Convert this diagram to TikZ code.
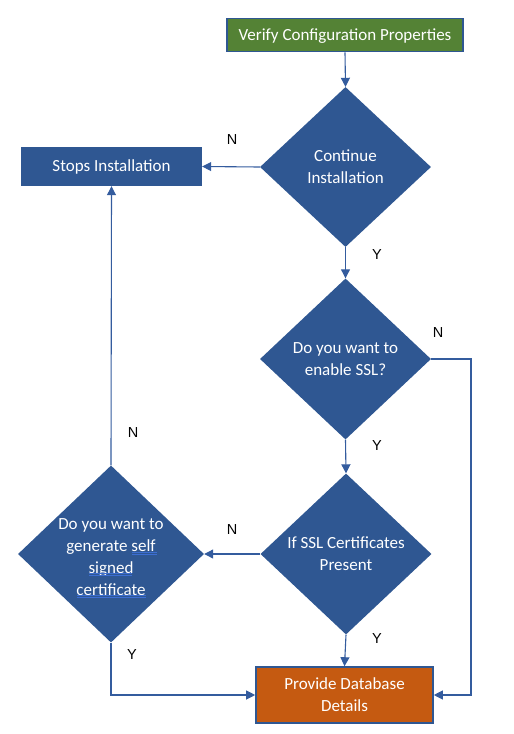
\documentclass[tikz,border=0pt]{standalone}
\usepackage{fontspec}
\setmainfont{Carlito}
\newfontfamily\labfont{Liberation Sans}
\usetikzlibrary{shapes.geometric,arrows.meta}
\definecolor{dblue}{RGB}{47,87,146}
\definecolor{lblue}{RGB}{52,92,158}
\definecolor{ulblue}{RGB}{60,110,210}
\definecolor{dgreen}{RGB}{84,130,53}
\definecolor{dorange}{RGB}{197,90,17}
\begin{document}
\begin{tikzpicture}[x=1pt,y=-1pt,
  base/.style={font=\fontsize{17}{22}\selectfont, text=white, align=center, inner sep=0pt},
  procbox/.style={base, rectangle, fill=dblue},
  decision/.style={base, diamond, fill=dblue, aspect=1},
  conn/.style={draw=lblue, line width=1.1pt, -{Triangle[length=9pt,width=9pt]}},
  squig/.style={draw=ulblue, line width=0.8pt},
  lab/.style={font=\labfont\fontsize{14.5}{16}\selectfont, text=black, inner sep=0pt}]
\useasboundingbox (0,0) rectangle (514,734);
\node[procbox, fill=dgreen, draw=dblue, line width=1.6pt, minimum width=236pt, minimum height=33pt] (verify) at (345,35) {};
\node[base] (verifyt) at ([yshift=-1.5pt]verify.center) {Verify Configuration Properties};
\node[decision, minimum width=171pt, minimum height=160pt] (d1) at (345.5,167) {Continue\\Installation};
\node[procbox, minimum width=181pt, minimum height=39pt] (stops) at (111.5,166.5) {Stops Installation};
\node[decision, minimum width=171pt, minimum height=161pt] (d2) at (345.5,359) {Do you want to\\enable SSL?};
\node[decision, minimum width=171pt, minimum height=161pt] (d3) at (346,554) {If SSL Certificates\\Present};
\node[decision, minimum width=186pt, minimum height=177pt] (d4) at (111,554) {};
\node[base] (d4t) at ([yshift=-3.5pt]d4.center) {Do you want to\\generate self\\signed\\certificate};
\draw[squig] (132,552) -- (157,552) (132,554) -- (157,554);
\draw[squig] (89,573.5) -- (132,573.5) (89,575.5) -- (132,575.5);
\draw[squig] (77,595) -- (146,595) (77,597) -- (146,597);
\node[procbox, fill=dorange, draw=dblue, line width=1.6pt, minimum width=177pt, minimum height=56pt] (db) at (344.5,695) {Provide Database\\Details};
\coordinate (c1) at (471,359);
\draw[conn] (verify.south) -- (d1.north);
\draw[conn] (d1.west) -- (stops.east);
\draw[conn] (d1.south) -- (d2.north);
\draw[conn] (d2.south) -- (d3.north);
\draw[conn] (d2.east) -- (c1) |- (db.east);
\draw[conn] (d3.west) -- (d4.east);
\draw[conn] (d3.south) -- (db.north);
\draw[conn] (d4.north) -- (stops.south);
\draw[conn] (d4.south) |- (db.west);
\node[lab] (n1) at (232,140) {N};
\node[lab] (y1) at (377,255) {Y};
\node[lab] (n2) at (438,333) {N};
\node[lab] (y2) at (377,446) {Y};
\node[lab] (n3) at (133,433) {N};
\node[lab] (n4) at (232,530) {N};
\node[lab] (y3) at (377,639) {Y};
\node[lab] (y4) at (132,655) {Y};
\end{tikzpicture}
\end{document}
